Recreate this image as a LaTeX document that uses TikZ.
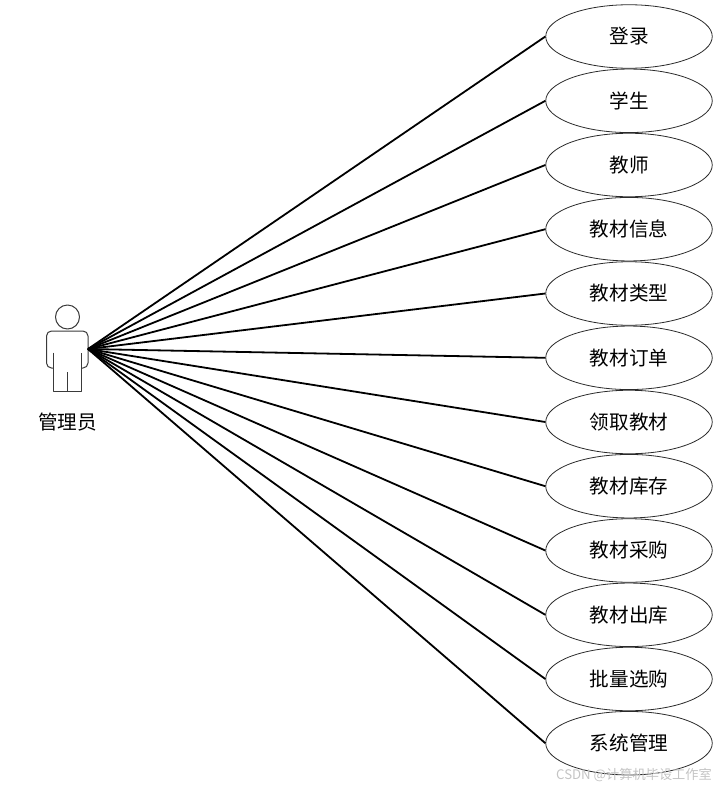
\documentclass[tikz,border=0pt]{standalone}
\usepackage{fontspec}
\setmainfont{Noto Sans CJK SC}
\usepackage{xcolor}
\usetikzlibrary{shapes.geometric}
\definecolor{outline}{HTML}{2B2B2B}
\definecolor{actorline}{HTML}{3A3A3A}
\definecolor{markgray}{HTML}{C4C4C4}

\begin{document}
\begin{tikzpicture}[
    x=1pt, y=-1pt,
    usecase/.style={ellipse, draw=outline, fill=white, line width=0.8pt,
                  minimum width=166.5pt, minimum height=63.5pt, inner sep=0pt,
                  font=\fontsize{19.6}{22}\selectfont, text=black},
    assoc/.style={line width=1.8pt, black},
    figure/.style={line width=1pt, draw=actorline, line join=round},
    caption/.style={font=\fontsize{19.6}{22}\selectfont, text=black, inner sep=0pt},
    watermark/.style={font=\fontsize{13.2}{16}\selectfont, text=markgray, inner sep=0pt},
  ]
    \useasboundingbox (0,0) rectangle (722,787);

    % --- actor -------------------------------------------------------------
    \draw[figure] (67.5,317) circle (12);
    \draw[figure, rounded corners=5pt]
      (53.5,368) -- (46.5,368) -- (46.5,331) -- (88,331) -- (88,368) -- (81,368);
    \draw[figure] (53.5,352.5) -- (53.5,391) -- (81,391) -- (81,352.5);
    \draw[figure] (67,372) -- (67,391);
    \node[caption] (admin) at (67.5,422) {管理员};
    \coordinate (hand) at (88,349);

    % --- twelve use cases, one column ---------------------------------------
    \node[usecase] (u1)  at (629,36.5)  {登录};
    \node[usecase] (u2)  at (629,100.8) {学生};
    \node[usecase] (u3)  at (629,165)   {教师};
    \node[usecase] (u4)  at (629,229.2) {教材信息};
    \node[usecase] (u5)  at (629,293.5) {教材类型};
    \node[usecase] (u6)  at (629,357.8) {教材订单};
    \node[usecase] (u7)  at (629,422)   {领取教材};
    \node[usecase] (u8)  at (629,486.2) {教材库存};
    \node[usecase] (u9)  at (629,550.5) {教材采购};
    \node[usecase] (u10) at (629,614.8) {教材出库};
    \node[usecase] (u11) at (629,679)   {批量选购};
    \node[usecase] (u12) at (629,743.2) {系统管理};

    % --- associations --------------------------------------------------------
    \draw[assoc] (hand)--(u1.west);  \draw[assoc] (hand)--(u2.west);
    \draw[assoc] (hand)--(u3.west);  \draw[assoc] (hand)--(u4.west);
    \draw[assoc] (hand)--(u5.west);  \draw[assoc] (hand)--(u6.west);
    \draw[assoc] (hand)--(u7.west);  \draw[assoc] (hand)--(u8.west);
    \draw[assoc] (hand)--(u9.west);  \draw[assoc] (hand)--(u10.west);
    \draw[assoc] (hand)--(u11.west); \draw[assoc] (hand)--(u12.west);

    \node[watermark, anchor=east] (csdn) at (712,775) {CSDN @计算机毕设工作室};
  \end{tikzpicture}
\end{document}
